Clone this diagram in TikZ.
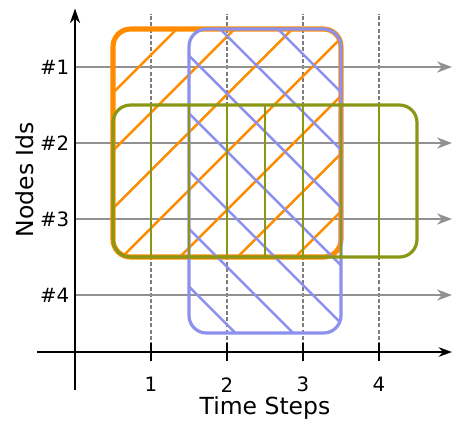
\documentclass[tikz,border=0pt]{standalone}
\usepackage{fontspec}
\setmainfont{DejaVu Sans}
\usetikzlibrary{arrows.meta}

\definecolor{boxorange}{RGB}{255,140,0}
\definecolor{boxblue}{RGB}{140,145,238}
\definecolor{boxolive}{RGB}{138,150,20}
\definecolor{rowgray}{RGB}{145,145,145}
\definecolor{dashgray}{RGB}{125,125,125}

\begin{document}
\begin{tikzpicture}[x=1cm, y=1cm,
    box/.style={rounded corners=0.23cm},
    hatch/.style={line width=0.9pt},
    tick label/.style={font=\fontsize{7.4}{8.8}\selectfont},
    axis label/.style={font=\fontsize{8.8}{10.6}\selectfont}]

    \useasboundingbox (-0.987,-0.934) rectangle (4.974,4.632);

    \pgfmathsetmacro{\xmax}{4.96}
    \pgfmathsetmacro{\ymax}{4.52}
    \pgfmathsetmacro{\tk}{0.12}
    \pgfmathsetmacro{\hs}{0.76}

    % 時刻ごとの点線
    \foreach \x in {1,...,4} {
        \draw[dashgray, line width=0.4pt, dash pattern=on 1.5pt off 0.8pt] (\x,0) -- (\x,4.45);
    }

    % ノードごとの行
    \foreach \y/\n in {3.75/1, 2.75/2, 1.75/3, 0.75/4} {
        \draw[rowgray, line width=0.65pt, -{Stealth[length=5.6pt, width=4.2pt]}] (0,\y) -- (\xmax,\y);
        \node[tick label, left, inner sep=0pt] (row\n) at (-0.07,\y) {\#\n};
    }

    % 座標軸
    \draw[line width=0.55pt, -{Stealth[length=5pt, width=3.6pt]}] (-0.5,0) -- (\xmax,0);
    \draw[line width=0.55pt, -{Stealth[length=5.5pt, width=3.8pt]}] (0,-0.5) -- (0,\ymax);

    % 目盛り
    \foreach \x in {1,...,4} {
        \draw[line width=0.8pt] (\x,-\tk) -- (\x,\tk);
        \node[tick label] (t\x) at (\x,-0.43) {\x};
    }
    \node[axis label] (xlabel) at (2.5,-0.74) {Time Steps};
    \node[axis label, rotate=90] (ylabel) at (-0.665,2.27) {Nodes Ids};

    % オレンジの箱
    \begin{scope}
        \clip[box] (0.5,1.25) rectangle (3.5,4.25);
        \foreach \k in {0,...,6} {
            \pgfmathsetmacro{\hc}{-2.91+\hs*\k}
            \draw[hatch, boxorange] ({\hc-1},-1) -- ({\hc+5},5);
        }
    \end{scope}
    \draw[boxorange, line width=1.9pt, box] (0.5,1.25) rectangle (3.5,4.25);

    % 青の箱
    \begin{scope}
        \clip[box] (1.5,0.25) rectangle (3.5,4.25);
        \foreach \k in {0,...,7} {
            \pgfmathsetmacro{\hc}{2.36+\hs*\k}
            \draw[hatch, boxblue] ({\hc+1},-1) -- ({\hc-5},5);
        }
    \end{scope}
    \draw[boxblue, line width=1.2pt, box] (1.5,0.25) rectangle (3.5,4.25);

    % オリーブの箱
    \begin{scope}
        \clip[box] (0.5,1.25) rectangle (4.5,3.25);
        \foreach \x in {1,1.5,...,4} {
            \draw[hatch, boxolive] (\x,1) -- (\x,3.5);
        }
    \end{scope}
    \draw[boxolive, line width=1.2pt, box] (0.5,1.25) rectangle (4.5,3.25);

\end{tikzpicture}
\end{document}
